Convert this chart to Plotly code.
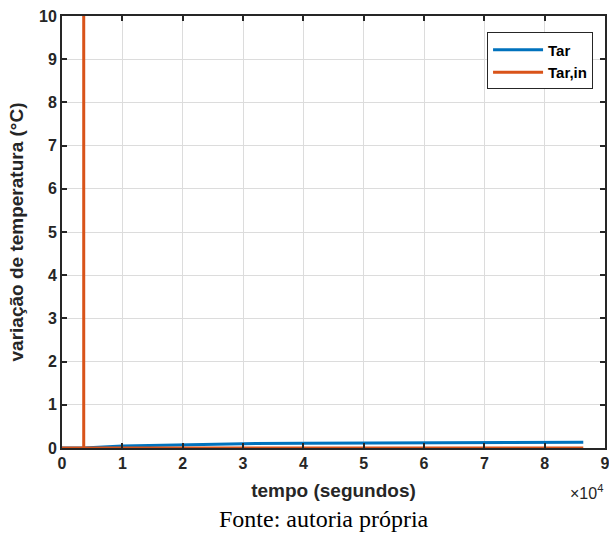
import plotly.graph_objects as go

# Data
t_ar = [0, 3600, 10000, 20000, 30000, 40000, 50000, 60000, 70000, 80000, 86400]
tar = [0, 0, 0.045, 0.08, 0.10, 0.11, 0.117, 0.122, 0.126, 0.129, 0.131]
t_in = [0, 3600, 3600, 3600, 86400]
tar_in = [0, 0, 100, 0, 0]

x_ticks = [0, 10000, 20000, 30000, 40000, 50000, 60000, 70000, 80000, 90000]
x_tick_labels = ["0", "1", "2", "3", "4", "5", "6", "7", "8", "9"]
y_ticks = list(range(0, 11))

blue = "#0072BD"
orange = "#D95319"
axis_col = "#262626"
sans = "Liberation Sans, Arial"

fig = go.Figure()
fig.add_trace(go.Scatter(x=t_ar, y=tar, mode="lines", name="Tar",
                         line=dict(color=blue, width=3)))
fig.add_trace(go.Scatter(x=t_in, y=tar_in, mode="lines", name="Tar,in",
                         line=dict(color=orange, width=3)))

axis_common = dict(showline=True, linecolor=axis_col, linewidth=2, mirror="ticks",
                   ticks="inside", ticklen=5, tickcolor=axis_col, tickwidth=1.5,
                   showgrid=True, gridcolor="#dcdcdc", gridwidth=1, zeroline=False,
                   automargin=False, ticklabeloverflow="allow",
                   tickfont=dict(family=sans, size=16, color=axis_col, weight="bold"))

fig.update_layout(
    width=609, height=534,
    margin=dict(l=62, r=4, t=16, b=86),
    plot_bgcolor="white", paper_bgcolor="white",
    showlegend=True,
    legend=dict(x=0.978, y=0.962, xanchor="right", yanchor="top",
                bordercolor=axis_col, borderwidth=1, bgcolor="white",
                font=dict(family=sans, size=15, color="black", weight="bold"),
                tracegroupgap=0, itemwidth=50),
    xaxis=dict(range=[0, 90000], tickvals=x_ticks, ticktext=x_tick_labels,
               title=dict(text="tempo (segundos)", standoff=12,
                          font=dict(family=sans, size=19, color=axis_col, weight="bold")),
               **axis_common),
    yaxis=dict(range=[0, 10], tickvals=y_ticks,
               title=dict(text="variação de temperatura (°C)", standoff=10,
                          font=dict(family=sans, size=19, color=axis_col, weight="bold")),
               **axis_common),
)

fig.add_annotation(x=1.0, y=0, xref="paper", yref="paper", xanchor="right", yanchor="middle",
                   yshift=-44, text="×10<sup>4</sup>", showarrow=False,
                   font=dict(family=sans, size=16, color=axis_col))
fig.add_annotation(x=0.5, y=0, xref="paper", yref="paper", yanchor="bottom",
                   yshift=-86, xshift=-10, text="Fonte: autoria própria", showarrow=False,
                   font=dict(family="Liberation Serif, Times New Roman", size=24, color="black"))

fig.write_html("out.html", config={"displayModeBar": False},
               post_script="document.body.style.margin='0';")
